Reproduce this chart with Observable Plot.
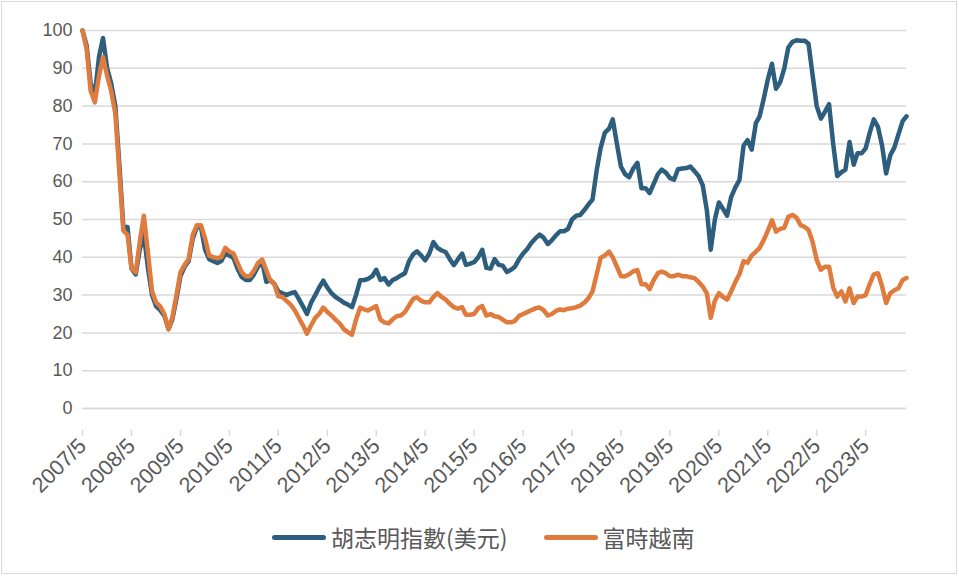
<!DOCTYPE html>
<html>
<head>
<meta charset="utf-8">
<script src="https://cdn.jsdelivr.net/npm/d3@7"></script>
<script src="https://cdn.jsdelivr.net/npm/@observablehq/plot@0.6"></script>
<style>
  html, body { margin: 0; padding: 0; background: #fff; }
  #frame { position: relative; width: 959px; height: 576px; overflow: hidden; font-family: "Liberation Sans", "Noto Sans CJK TC", sans-serif; }
  #border { position: absolute; left: 1px; top: 1px; width: 954px; height: 571px; border: 1px solid #d9d9d9; box-sizing: content-box; }
  #chart { position: absolute; left: 0; top: 0; }
  #legend { position: absolute; top: 520px; left: 272px; display: flex; align-items: center; font-size: 23px; color: #595959; font-family: "Noto Sans CJK TC", sans-serif; white-space: nowrap; }
  .sw { display: inline-block; width: 54px; height: 5px; border-radius: 3px; margin-right: 5px; }
  .item { display: flex; align-items: center; margin-right: 36px; }
</style>
</head>
<body>
<div id="frame">
  <div id="border"></div>
  <div id="chart"></div>
  <div id="legend"></div>
</div>
<script>
const seriesNames = ["胡志明指數(美元)", "富時越南"];
const seriesColors = ["#2E5E7E", "#DF7B3C"];
const startYear = 2007, startMonth = 5;
const tickLabels = ["2007/5","2008/5","2009/5","2010/5","2011/5","2012/5","2013/5","2014/5","2015/5","2016/5","2017/5","2018/5","2019/5","2020/5","2021/5","2022/5","2023/5"];
const yTicks = [0,10,20,30,40,50,60,70,80,90,100];

// 胡志明指數(美元), monthly from 2007/5
const hcmUsd = [
100,96,86,83,93,98,90,86,80,64,48,48,37,35.5,42,46,37,30,27,26,
24.5,21,23.5,29,35,37.5,39,45,48,48,42,39.5,39,38.5,39,41,40.5,39.8,37,34.8,
34,34,35.5,37.5,38.9,33.5,34,33,31,30.5,30,30.5,30.8,29,27,25,28,30,32,33.8,
32,30.5,29.5,28.8,28,27.5,26.8,30,33.9,34,34.3,35,36.7,34,34.5,32.8,34,34.5,35.2,35.8,
39,40.8,41.6,40.5,39.2,41,44,42.5,41.8,41.4,39.5,37.9,39.5,41,38,38.3,38.7,40,42,37.2,
37,39.5,38,37.8,36.1,36.7,37.5,39.5,41,42.2,43.8,45,46,45.2,43.5,44.5,45.8,46.9,46.9,47.5,
50,51,51.2,52.5,54,55.3,63,69,73,74,76.5,70,64,62,61.2,63.5,65,58.3,58.3,57,
59.5,62,63.2,62.4,61,60.5,63.3,63.5,63.6,64,62.8,61.5,59.1,52.5,42,50,54.5,52.8,51,56,
58.5,60.4,69.5,71,68.5,75.5,77.3,82,87,91.2,84.6,86.3,90,95.5,97,97.4,97.3,97.3,96.5,88,
80,76.7,78.5,80.5,70,61.5,62.5,63.2,70.5,64.5,67.5,67.5,68.8,73,76.5,74.5,69.5,62.2,67,69,
72.5,76,77.3
];
// 富時越南, monthly from 2007/5
const ftseVn = [
100,95,84,81,88,93,88,84,78,62,47,46,37,36,44,51,41,31,28,27,
25,21,24,30,36,38,39.5,46,48.5,48.5,45,40.5,40,39.8,40,42.5,41.5,41,38.5,36,
35,35,36.5,38.5,39.4,36.5,34,33,29.7,29.5,28.5,27.5,26,24,22,19.8,22,24,25,26.7,
25.5,24.6,23.5,22.5,21,20.2,19.5,23.5,26.7,26.2,25.9,26.5,27.1,23.5,22.8,22.5,23.6,24.4,24.6,25.5,
27.3,29,29.4,28.5,28.1,28.1,29.5,30.5,29.5,28.8,27.7,26.8,26.4,26.8,24.8,24.8,25,26.5,27.1,24.6,
25,24.4,24.2,23.5,22.8,22.8,23.2,24.5,25,25.5,26,26.5,26.7,26,24.6,25,25.8,26.2,26,26.4,
26.5,26.8,27.2,28,29.2,31,35.5,39.9,40.5,41.5,40,37.5,35,35,35.5,36.3,36.6,32.9,32.9,31.6,
34,35.8,36.2,35.8,35,35,35.4,35,35,34.7,34.5,33.5,32.3,30.5,24,28.5,30.5,29.5,28.8,31,
33.5,35.5,39,38.6,40.5,41.5,42.5,44.6,47,49.8,46.8,47.5,47.8,50.7,51.2,50.5,48.5,48,47.2,44,
39.3,36.7,37.5,37.5,32,29.6,31,28.3,31.8,27.9,29.6,29.6,30,33,35.5,35.8,32.3,27.9,30.5,31.3,
31.8,34,34.5
];

const monthDate = i => new Date(Date.UTC(startYear, startMonth - 1 + i, 1));
const rows = [];
[hcmUsd, ftseVn].forEach((vals, s) => vals.forEach((v, i) => rows.push({date: monthDate(i), value: v, series: seriesNames[s]})));

const tickDates = tickLabels.map(s => { const [y, m] = s.split("/").map(Number); return new Date(Date.UTC(y, m - 1, 1)); });
const labelOf = new Map(tickDates.map((d, i) => [+d, tickLabels[i]]));
const lastDate = monthDate(hcmUsd.length - 1);

const chart = Plot.plot({
  width: 959,
  height: 500,
  marginLeft: 82,
  marginRight: 53,
  marginTop: 30,
  marginBottom: 92,
  x: {type: "utc", domain: [monthDate(0), lastDate], label: null},
  y: {domain: [0, 100], label: null},
  style: {fontFamily: "'Liberation Sans', 'Noto Sans CJK TC', sans-serif", fontSize: "18px", color: "#595959", background: "transparent", overflow: "visible"},
  marks: [
    Plot.gridY(yTicks, {stroke: "#d9d9d9", strokeOpacity: 1, strokeWidth: 1.5}),
    Plot.axisY(yTicks, {tickSize: 0, tickPadding: 10, fontSize: 18, fill: "#595959", label: null}),
    Plot.ruleY([0], {stroke: "#d9d9d9", strokeWidth: 1.5}),
    Plot.axisX(tickDates, {tickSize: 6, stroke: "#d9d9d9", strokeWidth: 1.5, strokeOpacity: 1, fill: "#595959", fontSize: 21.5, tickRotate: -45, tickPadding: 6, dx: 0, dy: 22, label: null, tickFormat: d => labelOf.get(+d)}),
    Plot.lineY(rows.filter(r => r.series === seriesNames[0]), {x: "date", y: "value", stroke: seriesColors[0], strokeWidth: 4.5, strokeLinejoin: "round", strokeLinecap: "round"}),
    Plot.lineY(rows.filter(r => r.series === seriesNames[1]), {x: "date", y: "value", stroke: seriesColors[1], strokeWidth: 4.5, strokeLinejoin: "round", strokeLinecap: "round"})
  ]
});
document.getElementById("chart").appendChild(chart);

const legend = document.getElementById("legend");
seriesNames.forEach((name, i) => {
  const item = document.createElement("div");
  item.className = "item";
  const sw = document.createElement("span");
  sw.className = "sw";
  sw.style.background = seriesColors[i];
  const t = document.createElement("span");
  t.textContent = name;
  item.appendChild(sw);
  item.appendChild(t);
  legend.appendChild(item);
});
</script>
</body>
</html>
